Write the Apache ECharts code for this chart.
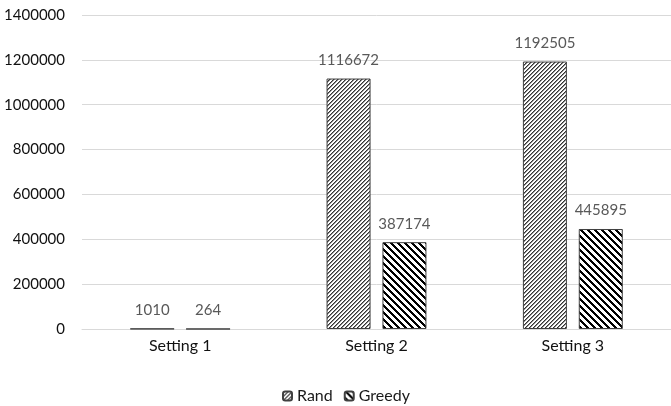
<!DOCTYPE html>
<html>
<head>
<meta charset="utf-8">
<script src="https://cdn.jsdelivr.net/npm/echarts@6/dist/echarts.min.js"></script>
<style>
  html, body { margin: 0; padding: 0; background: #fff; }
  #chart { width: 671px; height: 406px; }
</style>
</head>
<body>
<div id="chart"></div>
<script>
// Chart data
const categories = ['Setting 1', 'Setting 2', 'Setting 3'];
const randValues = [1010, 1116672, 1192505];
const greedyValues = [264, 387174, 445895];
const yTicks = { min: 0, max: 1400000, interval: 200000 };

// Pixel-exact diagonal hatch tiles.
// shades[k] is the colour for pixels whose diagonal phase is k (null = white).
// forward = true draws "/" stripes, false draws "\" stripes.
function hatch(period, shades, forward) {
  const c = document.createElement('canvas');
  c.width = period; c.height = period;
  const g = c.getContext('2d');
  g.fillStyle = '#ffffff';
  g.fillRect(0, 0, period, period);
  for (let y = 0; y < period; y++) {
    for (let x = 0; x < period; x++) {
      const k = forward ? (x + y) % period : ((x - y) % period + period) % period;
      if (shades[k]) {
        g.fillStyle = shades[k];
        g.fillRect(x, y, 1, 1);
      }
    }
  }
  return { image: c, repeat: 'repeat' };
}

const randFill = hatch(4, ['#333333', '#8c8c8c', null, null], true);
const greedyFill = hatch(7, ['#000000', '#000000', '#000000', null, null, null, null], false);

const font = 'Lato, "Open Sans", sans-serif';

const chart = echarts.init(document.getElementById('chart'), null, { renderer: 'canvas' });
chart.setOption({
  animation: false,
  backgroundColor: '#ffffff',
  textStyle: { fontFamily: font },
  grid: { left: 82, right: 0, top: 15, bottom: 77, containLabel: false },
  legend: {
    top: 383,
    left: 277,
    itemWidth: 9,
    itemHeight: 9,
    itemGap: 11,
    textStyle: { fontSize: 16, color: '#1a1a1a', fontFamily: font },
    data: ['Rand', 'Greedy']
  },
  xAxis: {
    type: 'category',
    data: categories,
    axisLine: { show: true, lineStyle: { color: '#d9d9d9', width: 1 } },
    axisTick: { show: false },
    axisLabel: { fontSize: 16, color: '#111111', margin: 9, fontFamily: font }
  },
  yAxis: {
    type: 'value',
    min: yTicks.min,
    max: yTicks.max,
    interval: yTicks.interval,
    axisLine: { show: false },
    axisTick: { show: false },
    splitLine: { lineStyle: { color: '#d9d9d9', width: 1 } },
    axisLabel: {
      fontSize: 15, color: '#111111', margin: 17, fontFamily: font,
      formatter: (v) => String(v)
    }
  },
  series: [
    {
      name: 'Rand',
      type: 'bar',
      data: randValues,
      barWidth: 44,
      barGap: '27%',
      itemStyle: { color: randFill, borderColor: '#404040', borderWidth: 1 },
      label: { show: true, position: 'top', distance: 11, fontSize: 15, color: '#595959', fontFamily: font }
    },
    {
      name: 'Greedy',
      type: 'bar',
      data: greedyValues,
      barWidth: 44,
      itemStyle: { color: greedyFill, borderColor: '#404040', borderWidth: 1 },
      label: { show: true, position: 'top', distance: 11, fontSize: 15, color: '#595959', fontFamily: font }
    }
  ]
});
</script>
</body>
</html>
